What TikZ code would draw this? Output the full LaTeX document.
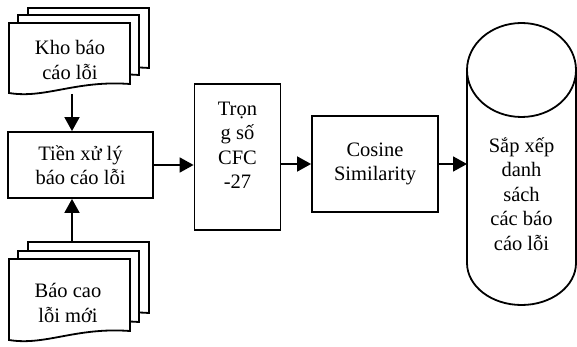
\documentclass[tikz,border=0pt]{standalone}
\usepackage{fontspec}
\setmainfont{Liberation Serif}
\usetikzlibrary{arrows.meta,positioning,calc}
\tikzset{every picture/.style={line width=1.8pt}}
\tikzset{
  hop/.style={draw, line width=1.8pt, align=center, font=\fontsize{20.5}{24.5}\selectfont},
  chu/.style={align=center, font=\fontsize{20.5}{24.5}\selectfont},
  muiten/.style={-{Triangle[length=14pt,width=15pt]}, line width=1.8pt},
}
% to tai lieu: x, y, rong, cao (canh trai)
\newcommand{\tolieu}[4]{%
  \filldraw[fill=white] (#1,#2) -- ({#1+#3},#2) -- ({#1+#3},{#2+#4-9})
    .. controls ({#1+0.55*#3},{#2+#4-13}) and ({#1+0.3*#3},{#2+#4+6}) .. (#1,{#2+#4}) -- cycle;
}

\begin{document}
\begin{tikzpicture}[x=1pt, y=-1pt]
    \useasboundingbox (0,0) rectangle (577,347);
    % kho bao cao loi
    \tolieu{28}{8}{121}{69}
    \tolieu{18}{15}{121}{69}
    \tolieu{9}{23}{121}{70}
    \node[chu] (kho) at (70,60) {Kho báo\\cáo lỗi};
    \coordinate (khoD) at (72,94);
    % bao cao loi moi
    \tolieu{28}{242}{121}{80}
    \tolieu{18}{251}{121}{80}
    \tolieu{9}{259}{121}{81}
    \node[chu] (moi) at (68,303) {Báo cao\\lỗi mới};
    \coordinate (moiT) at (72,242);
    % cac buoc xu ly
    \node[hop, minimum width=145pt, minimum height=66pt] (tien) at (80.5,165) {Tiền xử lý\\báo cáo lỗi};
    \node[hop, minimum width=86pt, minimum height=146pt] (trong) at (237.5,157) {};
    \node[chu] (trongchu) at (237.5,145.5) {Trọn\\g số\\CFC\\-27};
    \node[hop, minimum width=126pt, minimum height=96pt] (cosine) at (375,164) {Cosine\\Similarity};
    % hinh tru
    \draw (467,70) -- (467,263) arc[start angle=180, end angle=0, x radius=54.5, y radius=42] -- (576,70);
    \draw (521.5,70) ellipse[x radius=54.5, y radius=47];
    \coordinate (sapL) at (467,194);
    \node[chu] (sap) at (521.5,194) {Sắp xếp\\danh\\sách\\các báo\\cáo lỗi};
    % mui ten
    \draw[muiten] (khoD) -- (khoD |- tien.north);
    \draw[muiten] (moiT) -- (moiT |- tien.south);
    \draw[muiten] (tien.east) -- (tien.east -| trong.west);
    \draw[muiten] (cosine.west -| trong.east) -- (cosine.west);
    \draw[muiten] (cosine.east) -- (cosine.east -| sapL);
\end{tikzpicture}
\end{document}
